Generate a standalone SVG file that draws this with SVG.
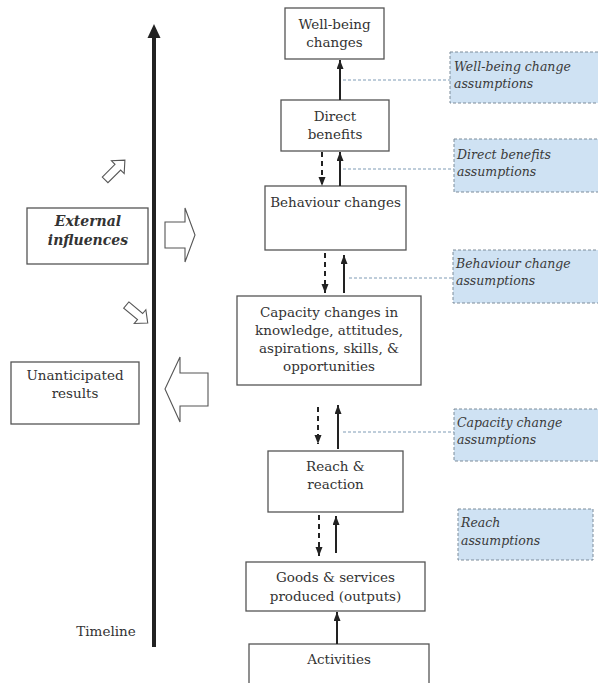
<svg xmlns="http://www.w3.org/2000/svg" width="598" height="683" viewBox="0 0 598 683">
<defs>
<style>
.box{fill:#fff;stroke:#555;stroke-width:1.3}
.asm{fill:#cfe2f3;stroke:#7d8c9a;stroke-width:1;stroke-dasharray:3 2}
.t{font-family:"DejaVu Serif","Liberation Serif",serif;font-size:13.5px;fill:#333;text-anchor:middle}
.ti{font-family:"DejaVu Serif","Liberation Serif",serif;font-size:12.5px;font-style:italic;fill:#3a3a3a}
.tb{font-family:"DejaVu Serif","Liberation Serif",serif;font-size:14px;font-style:italic;font-weight:bold;fill:#333;text-anchor:middle}
.sol{stroke:#222;stroke-width:2;fill:none;marker-end:url(#ah)}
.dsh{stroke:#222;stroke-width:2;fill:none;stroke-dasharray:5 4;marker-end:url(#ah)}
.dot{stroke:#7f9bb5;stroke-width:1;stroke-dasharray:3 2;fill:none}
.blk{fill:#fff;stroke:#555;stroke-width:1.1}
</style>
<marker id="ah" markerUnits="userSpaceOnUse" markerWidth="10" markerHeight="8" refX="9" refY="3.5" orient="auto">
<path d="M0,0 L9,3.5 L0,7 z" fill="#222"/>
</marker>
</defs>
<rect width="598" height="683" fill="#fff"/>

<g id="timeline">
<line x1="154" y1="647" x2="154" y2="34" stroke="#222" stroke-width="4"/>
<polygon points="154,24 160.5,38 147.5,38" fill="#222"/>
<text class="t" x="106" y="636" font-size="13">Timeline</text>
</g>

<g id="external-influences">
<rect class="box" x="27" y="208" width="121" height="56"/>
<text class="tb" x="88" y="226">External</text>
<text class="tb" x="88" y="245">influences</text>
</g>

<g id="unanticipated-results">
<rect class="box" x="11" y="362" width="128" height="62"/>
<text class="t" x="75" y="380">Unanticipated</text>
<text class="t" x="75" y="398">results</text>
</g>

<g id="block-arrows">
<polygon class="blk" transform="translate(115,170) rotate(-45)" points="-14,-4 4,-4 4,-9 14,0 4,9 4,4 -14,4"/>
<polygon class="blk" points="165,222 185,222 185,208 195,235 185,262 185,248 165,248"/>
<polygon class="blk" transform="translate(137,314) rotate(40)" points="-14,-4 4,-4 4,-9 14,0 4,9 4,4 -14,4"/>
<polygon class="blk" points="208,373 180,373 180,357 165,389 180,422 180,406 208,406"/>
</g>

<g id="wellbeing">
<rect class="box" x="285" y="8" width="99" height="51"/>
<text class="t" x="334.5" y="29">Well-being</text>
<text class="t" x="334.5" y="47">changes</text>
</g>

<g id="direct-benefits">
<rect class="box" x="281" y="100" width="108" height="51"/>
<text class="t" x="335" y="121">Direct</text>
<text class="t" x="335" y="139">benefits</text>
</g>

<g id="behaviour-changes">
<rect class="box" x="265" y="186" width="141" height="64"/>
<text class="t" x="335.5" y="207">Behaviour changes</text>
</g>

<g id="capacity-changes">
<rect class="box" x="237" y="296" width="184" height="89"/>
<text class="t" x="329" y="317">Capacity changes in</text>
<text class="t" x="329" y="335">knowledge, attitudes,</text>
<text class="t" x="329" y="353">aspirations, skills, &amp;</text>
<text class="t" x="329" y="371">opportunities</text>
</g>

<g id="reach-reaction">
<rect class="box" x="268" y="451" width="135" height="61"/>
<text class="t" x="335.5" y="471">Reach &amp;</text>
<text class="t" x="335.5" y="489">reaction</text>
</g>

<g id="goods-services">
<rect class="box" x="246" y="562" width="179" height="49"/>
<text class="t" x="335.5" y="582">Goods &amp; services</text>
<text class="t" x="335.5" y="601">produced (outputs)</text>
</g>

<g id="activities">
<rect class="box" x="249" y="644" width="180" height="50"/>
<text class="t" x="339" y="664">Activities</text>
</g>

<g id="wellbeing-assumptions">
<rect class="asm" x="450" y="52" width="150" height="51"/>
<text class="ti" x="454" y="71">Well-being change</text>
<text class="ti" x="454" y="88">assumptions</text>
</g>

<g id="direct-benefits-assumptions">
<rect class="asm" x="454" y="139" width="146" height="53"/>
<text class="ti" x="457" y="159">Direct benefits</text>
<text class="ti" x="457" y="176">assumptions</text>
</g>

<g id="behaviour-change-assumptions">
<rect class="asm" x="453" y="250" width="147" height="53"/>
<text class="ti" x="456" y="268">Behaviour change</text>
<text class="ti" x="456" y="285">assumptions</text>
</g>

<g id="capacity-change-assumptions">
<rect class="asm" x="454" y="409" width="146" height="52"/>
<text class="ti" x="457" y="427">Capacity change</text>
<text class="ti" x="457" y="444">assumptions</text>
</g>

<g id="reach-assumptions">
<rect class="asm" x="458" y="509" width="135" height="51"/>
<text class="ti" x="461" y="527">Reach</text>
<text class="ti" x="461" y="545">assumptions</text>
</g>

<g id="connectors">
<line class="sol" x1="340" y1="100" x2="340" y2="60"/>
<line class="dsh" x1="322" y1="152" x2="322" y2="186"/>
<line class="sol" x1="340" y1="186" x2="340" y2="152"/>
<line class="dsh" x1="325" y1="253" x2="325" y2="293"/>
<line class="sol" x1="344" y1="293" x2="344" y2="255"/>
<line class="dsh" x1="318" y1="407" x2="318" y2="444"/>
<line class="sol" x1="338" y1="449" x2="338" y2="405"/>
<line class="dsh" x1="319" y1="515" x2="319" y2="556"/>
<line class="sol" x1="336" y1="553" x2="336" y2="516"/>
<line class="sol" x1="337" y1="644" x2="337" y2="612"/>
<line class="dot" x1="343" y1="80" x2="450" y2="80"/>
<line class="dot" x1="343" y1="169" x2="454" y2="169"/>
<line class="dot" x1="349" y1="278" x2="453" y2="278"/>
<line class="dot" x1="343" y1="432" x2="454" y2="432"/>
</g>
</svg>
